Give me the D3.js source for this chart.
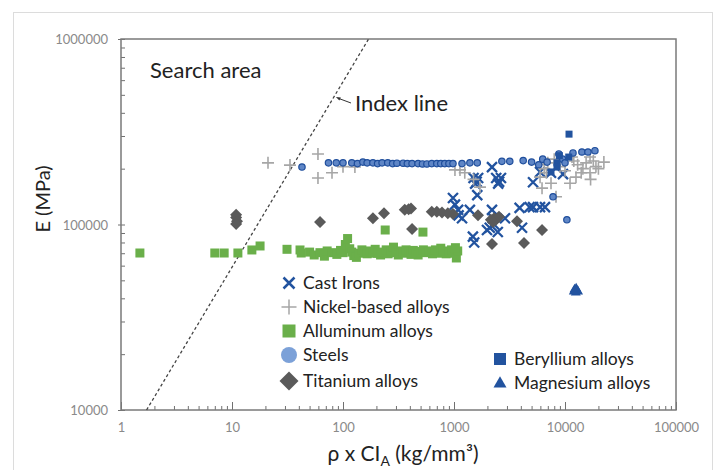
<!DOCTYPE html>
<html><head><meta charset="utf-8">
<script src="https://cdn.jsdelivr.net/npm/d3@7"></script>
<style>body{margin:0;background:#fff;} svg{display:block;font-family:Lato, "Open Sans", sans-serif;}</style>
</head><body><svg id="c" width="716" height="470"></svg>
<script>
// ---------- data ----------
const xTickLabels = [1, 10, 100, 1000, 10000, 100000];
const yTickLabels = [10000, 100000, 1000000];
const indexLine = [[1.7, 10000], [170, 1000000]];

const castIrons = [[979,139000],[1020,128000],[1090,120000],[1181,108000],[1390,120000],[1620,144000],[2199,120000],[2240,108000],[2100,96000],[1982,93400],[2879,108000],[2480,91100],[3900,123000],[4100,96000],[1480,86000],[1520,80000],[2199,204000],[1500,178000],[1600,170000],[1650,178000],[1550,166000],[2400,178000],[2550,170000],[2650,178000],[2500,166000],[5152,169000],[5152,124000],[5960,124000],[6600,124000],[4800,124000],[5960,192000],[7480,190000],[9590,187000],[1100,112000],[2300,100000]];

const nickelAlloys = [[21.1,215000],[33.3,209000],[59.5,240000],[59.5,178000],[79.6,190000],[100,205000],[128,204000],[1020,197000],[1132,197000],[1250,190000],[1714,159000],[1500,175000],[5960,180000],[6210,157000],[7480,167000],[8300,141000],[11100,167000],[12560,180000],[16800,190000],[22400,217000],[6000,210000],[6500,200000],[7000,215000],[11560,231000],[16800,231000],[13000,210000],[14500,200000],[15500,215000],[19000,205000],[18000,220000],[10000,195000],[9000,205000],[12000,220000],[14000,190000],[17000,175000],[6800,190000],[8000,225000],[20000,200000]];

const aluminumAlloys = [[1.48,70200],[7.0,70200],[8.5,70200],[11.3,70200],[15.1,72900],[17.9,76600],[31.3,73500],[41,72900],[42,70200],[50,71000],[55,68500],[62,70500],[68,67500],[72,72000],[80,70500],[88,69000],[95,72500],[100,70500],[105,78000],[110,84000],[115,74000],[120,71000],[125,68000],[132,66500],[140,70000],[148,73000],[155,71000],[165,69500],[175,72000],[185,70000],[195,73500],[205,70000],[218,68500],[230,71000],[240,93400],[245,73000],[255,69500],[270,72000],[285,75500],[300,70500],[315,68500],[330,72000],[350,70000],[370,73000],[390,71000],[410,69000],[430,72500],[450,70000],[475,68500],[500,71500],[525,91000],[530,73000],[560,70500],[600,72000],[640,69500],[680,73000],[720,70000],[760,74500],[800,72000],[850,69500],[900,71500],[950,73000],[1000,70000],[1050,66000],[1080,72000],[1030,75000]];

const steels = [[42.7,204000],[74,215000],[87,215000],[100,215000],[120,215000],[135,213000],[151,217000],[165,215000],[186,215000],[205,213000],[225,215000],[253,215000],[280,213000],[306,214000],[348,214000],[380,213000],[419,213000],[474,213000],[520,212000],[570,212000],[630,213000],[700,213000],[760,213000],[826,213000],[900,213000],[979,213000],[1181,213000],[1390,215000],[1620,215000],[2700,219000],[3180,219000],[4200,221000],[5000,217000],[5800,210000],[6300,225000],[6900,217000],[7800,141000],[8800,240000],[9500,225000],[10000,215000],[10400,106000],[11800,243000],[14200,246000],[16100,246000],[18600,250000]];

const titaniumAlloys = [[10.9,113000],[10.9,109000],[11.1,104000],[10.9,100700],[62.1,103000],[186,108000],[234,115000],[360,120000],[390,121000],[410,122000],[419,94600],[630,117000],[700,117000],[780,116000],[880,115000],[979,114000],[1645,112000],[2150,106000],[2300,108000],[2389,106000],[2543,110000],[2250,103000],[3696,104000],[6210,93400],[2199,78500],[4273,79500]];

const berylliumAlloys = [[10870,307000],[7480,192000],[8470,215000],[8470,204000],[10800,231000],[8900,235000]];

const magnesiumAlloys = [[12200,45000],[12800,44400],[12500,43300],[13100,43800],[12000,43800],[12600,45500]];

const seriesNames = ["Cast Irons","Nickel-based alloys","Alluminum alloys","Steels","Titanium alloys","Beryllium alloys","Magnesium alloys"];

// ---------- drawing ----------
const svg = d3.select("#c");
const L = 121, R = 676, T = 39, B = 410;
const x = d3.scaleLog().domain([1, 100000]).range([L, R]);
const y = d3.scaleLog().domain([10000, 1000000]).range([B, T]);

// outer frame
svg.append("rect").attr("x", 13.5).attr("y", 12.5).attr("width", 699).attr("height", 480)
  .attr("fill", "none").attr("stroke", "#dcdcdc").attr("stroke-width", 1);

// axes
const gxMinor = svg.append("g").attr("transform", `translate(0,${B})`)
  .call(d3.axisBottom(x).tickValues(x.ticks()).tickSizeInner(-4).tickSizeOuter(0).tickFormat(""));
const gxMajor = svg.append("g").attr("transform", `translate(0,${B})`)
  .call(d3.axisBottom(x).tickValues(xTickLabels).tickSizeInner(-8).tickSizeOuter(0).tickPadding(13).tickFormat(d3.format("d")));
const gyMinor = svg.append("g").attr("transform", `translate(${L},0)`)
  .call(d3.axisLeft(y).tickValues(y.ticks()).tickSizeInner(-4).tickSizeOuter(0).tickFormat(""));
const gyMajor = svg.append("g").attr("transform", `translate(${L},0)`)
  .call(d3.axisLeft(y).tickValues(yTickLabels).tickSizeInner(3).tickSizeOuter(0).tickPadding(10).tickFormat(d3.format("d")));
[gxMinor, gxMajor, gyMinor, gyMajor].forEach(g => {
  g.select(".domain").remove();
  g.selectAll(".tick line").attr("stroke", "#707070").attr("stroke-width", 1);
  g.selectAll(".tick text").attr("fill", "#8a8a8a").attr("font-size", 13).attr("font-family", "Lato, sans-serif");
});
gyMajor.selectAll(".tick text").attr("dy", "0.35em");

// plot frame
svg.append("rect").attr("x", L).attr("y", T).attr("width", R - L).attr("height", B - T)
  .attr("fill", "none").attr("stroke", "#7a7a7a").attr("stroke-width", 1.5);

// index line
svg.append("line")
  .attr("x1", x(indexLine[0][0])).attr("y1", y(indexLine[0][1]))
  .attr("x2", x(indexLine[1][0])).attr("y2", y(indexLine[1][1]))
  .attr("stroke", "#444").attr("stroke-width", 1.3).attr("stroke-dasharray", "3,2.5");

// marker painters
const C_BLUE = "#22539f", C_GRAY = "#a6a6a6", C_GREEN = "#6aaf4a", C_STEEL = "#7ca1d8", C_STEEL_DOT = "#5f86c6", C_STEEL_EDGE = "#1f4e9c", C_TI = "#5a5a5a";
function drawX(g, cx, cy, r, w) {
  g.append("path").attr("d", `M${cx-r},${cy-r}L${cx+r},${cy+r}M${cx-r},${cy+r}L${cx+r},${cy-r}`)
    .attr("stroke", C_BLUE).attr("stroke-width", w).attr("fill", "none");
}
function drawPlus(g, cx, cy, r, w) {
  g.append("path").attr("d", `M${cx-r},${cy}L${cx+r},${cy}M${cx},${cy-r}L${cx},${cy+r}`)
    .attr("stroke", C_GRAY).attr("stroke-width", w).attr("fill", "none");
}
function drawSquare(g, cx, cy, s, col) {
  g.append("rect").attr("x", cx - s/2).attr("y", cy - s/2).attr("width", s).attr("height", s).attr("fill", col);
}
function drawCircle(g, cx, cy, r, edge) {
  const c = g.append("circle").attr("cx", cx).attr("cy", cy).attr("r", r).attr("fill", edge ? C_STEEL_DOT : C_STEEL);
  if (edge) c.attr("stroke", C_STEEL_EDGE).attr("stroke-width", 1.2);
}
function drawDiamond(g, cx, cy, r) {
  g.append("path").attr("d", `M${cx},${cy-r}L${cx+r},${cy}L${cx},${cy+r}L${cx-r},${cy}Z`).attr("fill", C_TI);
}
function drawTri(g, cx, cy, s) {
  const h = s * 0.866;
  g.append("path").attr("d", `M${cx},${cy-h*0.6}L${cx+s/2},${cy+h*0.4}L${cx-s/2},${cy+h*0.4}Z`).attr("fill", C_BLUE);
}

const pts = svg.append("g");
castIrons.forEach(d => drawX(pts, x(d[0]), y(d[1]), 5, 2.3));
nickelAlloys.forEach(d => drawPlus(pts, x(d[0]), y(d[1]), 6, 1.6));
aluminumAlloys.forEach(d => drawSquare(pts, x(d[0]), y(d[1]), 9, C_GREEN));
steels.forEach(d => drawCircle(pts, x(d[0]), y(d[1]), 3.2, true));
titaniumAlloys.forEach(d => drawDiamond(pts, x(d[0]), y(d[1]), 6));
berylliumAlloys.forEach(d => drawSquare(pts, x(d[0]), y(d[1]), 7, C_BLUE));
magnesiumAlloys.forEach(d => drawTri(pts, x(d[0]), y(d[1]), 10));

// legend
const lg = svg.append("g").attr("font-size", 17.5).attr("fill", "#222");
const leftRows = [283, 307, 331, 355, 381];
const mx = 289, tx = 303;
drawX(lg, mx, leftRows[0], 5.5, 2.5);
drawPlus(lg, mx, leftRows[1], 7.5, 1.5);
drawSquare(lg, mx, leftRows[2], 13, C_GREEN);
drawCircle(lg, mx, leftRows[3], 8, false);
drawDiamond(lg, mx, leftRows[4], 9.5);
const rightRows = [359, 383];
const mx2 = 500, tx2 = 514;
drawSquare(lg, mx2, rightRows[0], 12, C_BLUE);
drawTri(lg, mx2, rightRows[1], 13);
leftRows.forEach((yy, i) => lg.append("text").attr("x", tx).attr("y", yy).attr("dy", "0.35em").text(seriesNames[i]));
rightRows.forEach((yy, i) => lg.append("text").attr("x", tx2).attr("y", yy).attr("dy", "0.35em").text(seriesNames[5 + i]));

// annotations
svg.append("text").attr("x", 150).attr("y", 78).attr("font-size", 22).attr("fill", "#222").text("Search area");
svg.append("text").attr("x", 355).attr("y", 111).attr("font-size", 22).attr("fill", "#222").text("Index line");
const tipY = 97;
const tipX = x(indexLine[0][0] * y.invert(tipY) / indexLine[0][1]) + 2;
svg.append("line").attr("x1", 351).attr("y1", 103).attr("x2", tipX + 3).attr("y2", tipY + 1.5)
  .attr("stroke", "#333").attr("stroke-width", 1);
svg.append("path").attr("d", `M${tipX},${tipY}l5,0.5l-1.5,3z`).attr("fill", "#333");

// axis titles
const xt = svg.append("text").attr("x", 403).attr("y", 461).attr("text-anchor", "middle")
  .attr("font-size", 21).attr("fill", "#222");
xt.append("tspan").text("ρ x CI");
xt.append("tspan").attr("font-size", 14).attr("dy", 5).text("A");
xt.append("tspan").attr("dy", -5).text(" (kg/mm³)");
svg.append("text").attr("transform", "translate(50,199) rotate(-90)").attr("text-anchor", "middle")
  .attr("font-size", 20).attr("fill", "#222").text("E (MPa)");
</script></body></html>
